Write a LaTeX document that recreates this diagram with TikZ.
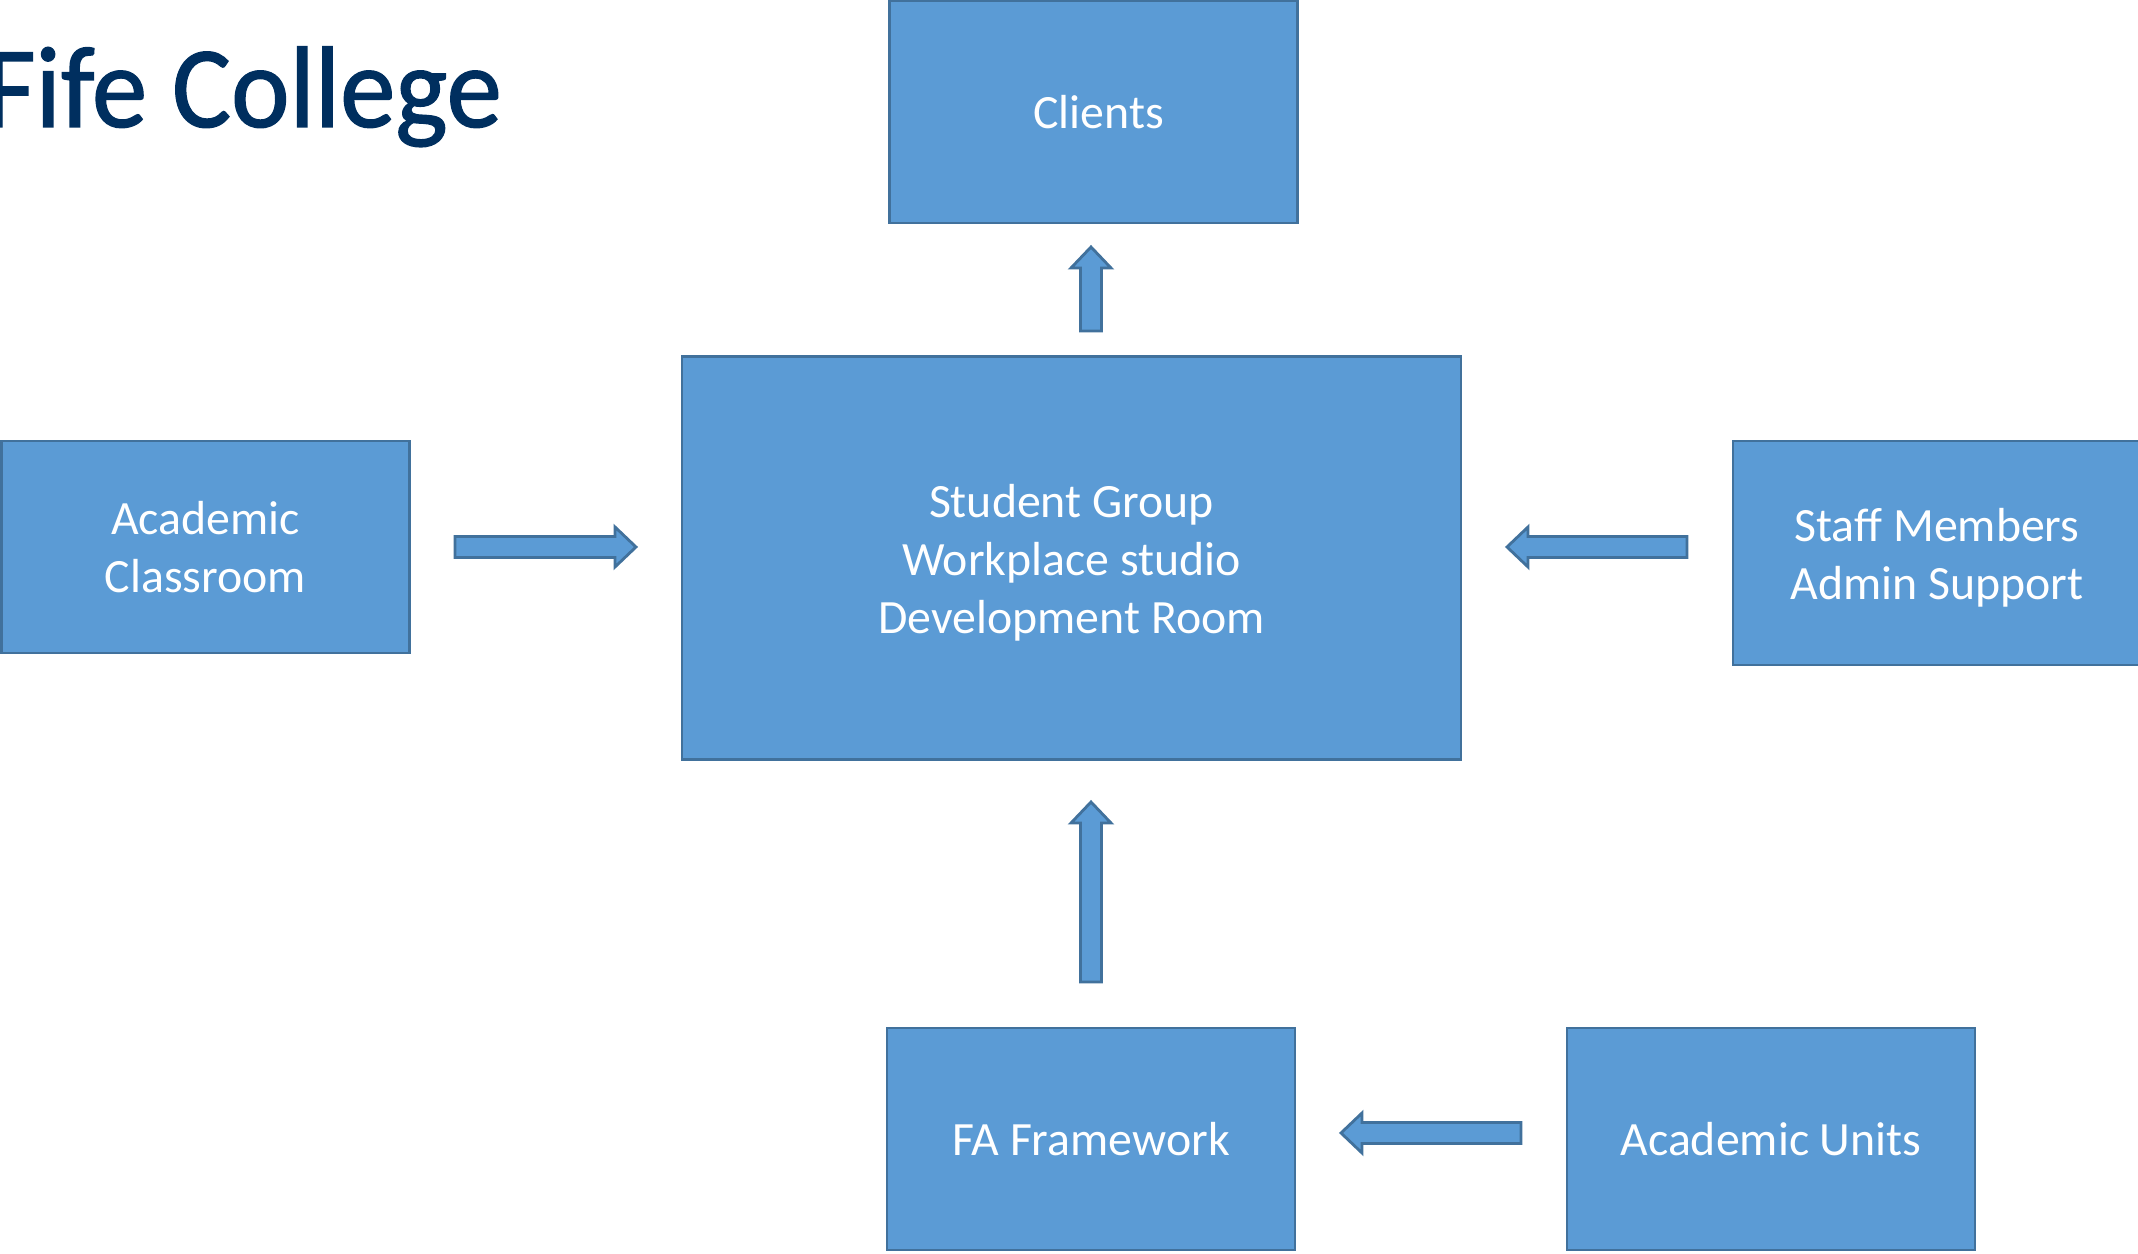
\documentclass[tikz,border=0pt]{standalone}
\usepackage{fontspec}
\setmainfont{Carlito}
\newfontfamily\titlefont[FakeBold=1.2]{Carlito}
\usetikzlibrary{calc}
\definecolor{boxblue}{HTML}{5B9BD5}
\definecolor{boxline}{HTML}{41719C}
\definecolor{titleblue}{HTML}{002F5F}
\tikzset{
    infobox/.style={draw=boxline, fill=boxblue, line width=0.8pt, text=white, align=center, inner sep=0pt,
        font=\fontsize{13.6}{16.5}\selectfont, minimum width=4.08cm, minimum height=2.22cm},
    blockarrow/.style={draw=boxline, fill=boxblue, line width=0.8pt},
}
\newcommand{\blockarrow}[2]{%
    \draw[blockarrow]
        ($(#1)!0.105cm!90:(#2)$)
        -- ($(#2)!0.21cm!(#1)!0.105cm!-90:(#1)$)
        -- ($(#2)!0.21cm!(#1)!0.2cm!-90:(#1)$)
        -- (#2)
        -- ($(#2)!0.21cm!(#1)!0.2cm!90:(#1)$)
        -- ($(#2)!0.21cm!(#1)!0.105cm!90:(#1)$)
        -- ($(#1)!0.105cm!-90:(#2)$) -- cycle;}

\begin{document}
\begin{tikzpicture}
    \useasboundingbox (0, 0) rectangle (21.38, -12.54);
    \node[anchor=base west, text=titleblue, font=\titlefont\fontsize{33}{40}\selectfont, inner sep=0pt, xscale=0.955, transform shape] (title) at (-0.16, -1.27) {Fife College};

    % boxes
    \node[infobox] (clients) at (10.935, -1.12) {\hspace*{0.1cm}Clients};
    \node[infobox, minimum width=7.79cm, minimum height=4.03cm] (student) at (10.715, -5.58) {\rule{0pt}{12pt}Student Group\\Workplace studio\\Development Room};
    \node[infobox, minimum width=4.08cm, minimum height=2.12cm] (classroom) at (2.055, -5.47) {Academic\\Classroom};
    \node[infobox, minimum width=4.08cm, minimum height=2.24cm] (staff) at (19.37, -5.53) {\rule{0pt}{12pt}Staff Members\\Admin Support};
    \node[infobox] (framework) at (10.91, -11.39) {FA Framework};
    \node[infobox] (units) at (17.71, -11.39) {Academic Units};

    % free ends of the arrows
    \coordinate (clientstail) at (10.91, -3.31);
    \coordinate (clientstip) at (10.91, -2.47);
    \coordinate (classtail) at (4.55, -5.47);
    \coordinate (classtip) at (6.36, -5.47);
    \coordinate (stafftail) at (16.87, -5.47);
    \coordinate (stafftip) at (15.07, -5.47);
    \coordinate (fatail) at (10.91, -9.82);
    \coordinate (fatip) at (10.91, -8.02);
    \coordinate (unitstail) at (15.21, -11.33);
    \coordinate (unitstip) at (13.41, -11.33);

    \blockarrow{clientstail}{clientstip}
    \blockarrow{classtail}{classtip}
    \blockarrow{stafftail}{stafftip}
    \blockarrow{fatail}{fatip}
    \blockarrow{unitstail}{unitstip}
\end{tikzpicture}
\end{document}
